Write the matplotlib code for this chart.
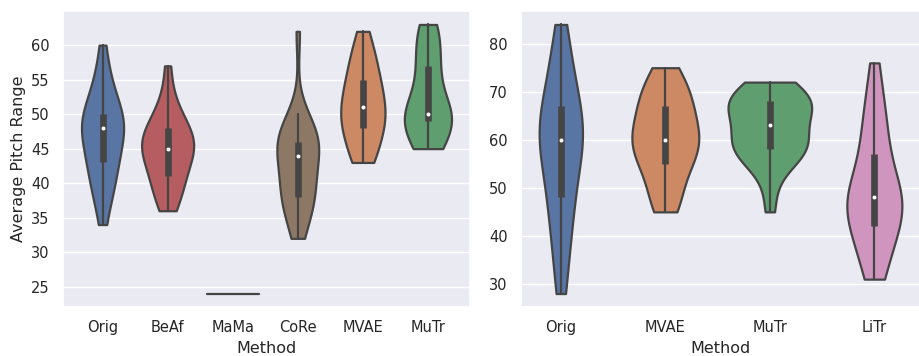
import matplotlib
matplotlib.use("Agg")
import matplotlib.pyplot as plt
import seaborn as sns
import numpy as np
import pandas as pd

# Pitch-range samples per method (left comparison)
left_methods = ["Orig", "BeAf", "MaMa", "CoRe", "MVAE", "MuTr"]
orig_left = [34, 37, 38, 39, 40, 41, 42, 43, 43, 44, 45, 45, 46, 47, 48, 48, 48,
             49, 49, 49, 50, 50, 51, 52, 53, 54, 55, 57, 60]
beaf_left = [36, 37, 38, 39, 40, 41, 41, 42, 43, 44, 44, 45, 45, 45, 46, 46, 47,
             47, 48, 48, 49, 50, 51, 53, 57]
mama_left = [24, 24, 24, 24, 24, 24, 24, 24, 24, 24]
core_left = [32, 34, 35, 36, 37, 38, 38, 39, 40, 40, 41, 42, 44, 44, 45, 45, 46,
             46, 46, 47, 47, 48, 49, 50, 62]
mvae_left = [43, 43, 44, 45, 46, 47, 48, 48, 49, 49, 50, 50, 51, 52, 52, 53, 54,
             54, 55, 56, 57, 58, 59, 60, 62]
mutr_left = [45, 45, 45, 46, 46, 47, 48, 49, 49, 49, 50, 50, 50, 50, 50, 51, 52,
             53, 54, 55, 56, 57, 58, 59, 60, 61, 62, 63, 63]

# Pitch-range samples per method (right comparison)
right_methods = ["Orig", "MVAE", "MuTr", "LiTr"]
orig_right = [28, 31, 35, 38, 41, 43, 45, 47, 48, 50, 52, 54, 55, 57, 58, 59, 60,
              60, 61, 62, 63, 64, 65, 66, 67, 68, 70, 72, 74, 76, 78, 81, 84]
mvae_right = [45, 46, 47, 49, 51, 53, 54, 55, 56, 57, 58, 59, 59, 60, 60, 61, 62,
              63, 64, 65, 66, 67, 68, 69, 70, 71, 72, 74, 75]
mutr_right = [45, 50, 54, 55, 56, 57, 57, 58, 59, 59, 60, 60, 61, 62, 63, 64, 65,
              66, 66, 67, 67, 68, 68, 69, 69, 70, 71, 72, 72]
litr_right = [31, 32, 34, 36, 38, 40, 41, 42, 43, 44, 45, 46, 47, 47, 48, 48, 49,
              50, 51, 53, 55, 57, 59, 61, 63, 65, 68, 71, 76]

method_color_index = {"Orig": 0, "MVAE": 1, "MuTr": 2, "BeAf": 3,
                      "MaMa": 4, "CoRe": 5, "LiTr": 6}

EDGE = "#454545"
LW = 1.6


def long_form(methods, samples):
    rows = []
    for m, vals in zip(methods, samples):
        rows.extend((m, v) for v in vals)
    return pd.DataFrame(rows, columns=["Method", "Average Pitch Range"])


sns.set_theme(style="darkgrid")
plt.rcParams["font.family"] = ["DejaVu Sans"]
plt.rcParams["xtick.labelsize"] = 10.5
plt.rcParams["ytick.labelsize"] = 10.5
plt.rcParams["axes.labelsize"] = 11.5

left_samples = [orig_left, beaf_left, mama_left, core_left, mvae_left, mutr_left]
right_samples = [orig_right, mvae_right, mutr_right, litr_right]
left_df = long_form(left_methods, left_samples)
right_df = long_form(right_methods, right_samples)

ver = tuple(int(p) for p in sns.__version__.split(".")[:2])
deep = sns.color_palette("deep")

fig = plt.figure(figsize=(9.2, 3.56), dpi=100)
ax_l = fig.add_axes([63 / 920, 49 / 356, 407 / 920, 296 / 356])
ax_r = fig.add_axes([521 / 920, 49 / 356, 399 / 920, 296 / 356])


def inner_box(ax, samples):
    # quartile bar, 1.5 IQR whiskers and a white median dot
    for i, vals in enumerate(samples):
        v = np.asarray(vals, dtype=float)
        if np.unique(v).size == 1:
            continue
        q1, med, q3 = np.percentile(v, [25, 50, 75])
        lim = 1.5 * (q3 - q1)
        lo = v[v >= q1 - lim].min()
        hi = v[v <= q3 + lim].max()
        ax.plot([i, i], [lo, hi], color=EDGE, lw=LW, zorder=3)
        ax.plot([i, i], [q1, q3], color=EDGE, lw=LW * 3, zorder=3,
                solid_capstyle="butt")
        ax.scatter([i], [med], s=(LW * 2) ** 2, color="white", edgecolor=EDGE,
                   linewidth=0.3, zorder=4)


def violins(ax, df, methods, samples):
    pal = [deep[method_color_index[m]] for m in methods]
    kw = dict(data=df, x="Method", y="Average Pitch Range", order=methods,
              cut=0, inner=None, linewidth=LW, palette=pal, ax=ax)
    if ver >= (0, 13):
        kw.update(hue="Method", hue_order=methods, legend=False,
                  density_norm="area", common_norm=True, linecolor=EDGE)
    else:
        kw.update(scale="area")
    sns.violinplot(**kw)
    inner_box(ax, samples)


violins(ax_l, left_df, left_methods, left_samples)
violins(ax_r, right_df, right_methods, right_samples)

ax_r.set_ylabel("")
ax_l.set_ylim(22.05, 64.95)
ax_r.set_ylim(25.2, 86.8)
ax_l.set_yticks([25, 30, 35, 40, 45, 50, 55, 60])
ax_r.set_yticks([30, 40, 50, 60, 70, 80])

fig.savefig("out.png", dpi=100)
